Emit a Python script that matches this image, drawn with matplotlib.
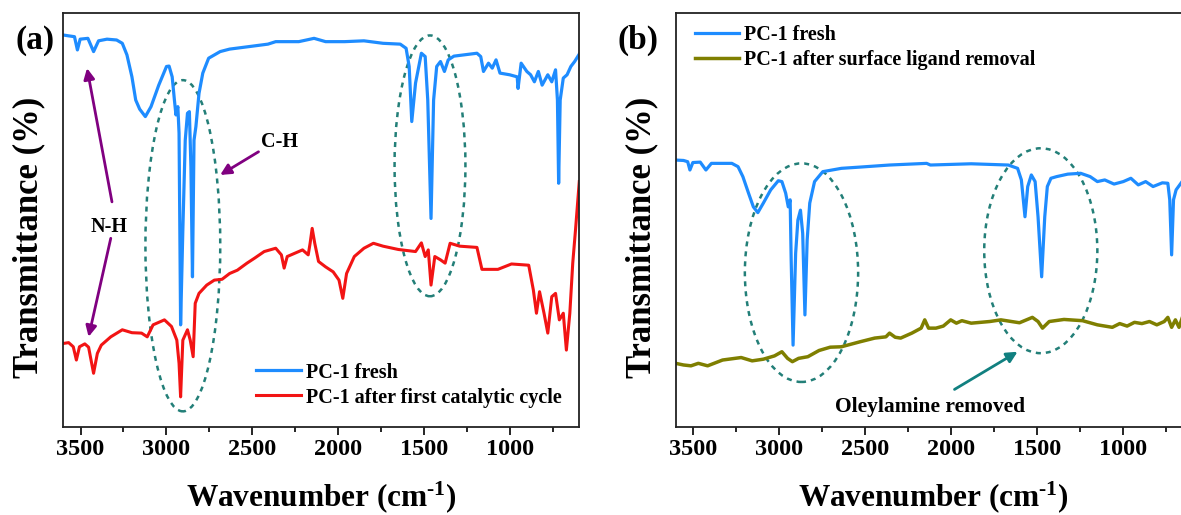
import matplotlib
matplotlib.use("Agg")
import matplotlib.pyplot as plt
from matplotlib.patches import Ellipse
from matplotlib.ticker import MultipleLocator

plt.rcParams["font.family"] = "Liberation Serif"
plt.rcParams["font.weight"] = "bold"
plt.rcParams["mathtext.fontset"] = "custom"
plt.rcParams["mathtext.rm"] = "Liberation Serif:bold"
plt.rcParams["mathtext.it"] = "Liberation Serif:bold"
plt.rcParams["mathtext.bf"] = "Liberation Serif:bold"

# ---- panel (a) data: wavenumber (cm-1) and transmittance (arb. units) ----
wn_fresh_a = [3600, 3569, 3535, 3518, 3502, 3457, 3424, 3395, 3346, 3290, 3257, 3230, 3201, 3179,
              3156, 3123, 3090, 3045, 3000, 2985, 2967, 2954, 2945, 2934, 2927, 2918, 2905, 2891,
              2878, 2867, 2858, 2849, 2840, 2829, 2811, 2789, 2755, 2688, 2633, 2521, 2410, 2365,
              2231, 2142, 2075, 1964, 1852, 1741, 1641, 1607, 1589, 1574, 1552, 1518, 1496, 1481,
              1462, 1447, 1429, 1407, 1384, 1362, 1329, 1195, 1173, 1157, 1128, 1106, 1084, 1061,
              1005, 961, 956, 938, 905, 883, 861, 838, 816, 783, 760, 738, 727, 720, 711, 693,
              671, 649, 627, 600]
tr_fresh_a = [94.6, 94.4, 94.2, 91.0, 93.6, 93.8, 90.6, 93.2, 93.6, 93.4, 92.6, 89.8, 84.5, 78.9,
              76.7, 74.9, 77.3, 82.5, 87.0, 87.1, 84.5, 78.9, 75.3, 77.3, 70.9, 24.6, 47.5, 69.2,
              75.7, 76.1, 62.8, 36.2, 69.2, 72.5, 80.5, 85.4, 89.0, 90.6, 91.2, 91.8, 92.4, 93.0,
              93.0, 93.8, 93.0, 93.0, 93.2, 92.6, 92.4, 91.4, 87.0, 73.7, 83.0, 90.2, 89.4, 78.9,
              50.3, 78.9, 87.0, 88.2, 85.8, 88.6, 89.5, 90.2, 89.4, 85.8, 87.8, 86.6, 88.6, 85.4,
              85.0, 84.5, 81.7, 87.8, 85.8, 85.0, 83.3, 85.8, 82.5, 85.0, 83.3, 86.2, 78.9, 58.8,
              78.9, 84.2, 85.0, 87.0, 88.2, 90.0]

wn_cycle_a = [3600, 3569, 3542, 3524, 3506, 3475, 3453, 3424, 3402, 3379, 3324, 3257, 3201, 3145,
              3112, 3078, 3012, 2971, 2940, 2927, 2918, 2905, 2878, 2862, 2845, 2833, 2811, 2766,
              2722, 2677, 2633, 2588, 2532, 2488, 2432, 2365, 2332, 2316, 2298, 2209, 2176, 2165,
              2153, 2138, 2116, 2075, 2031, 1997, 1975, 1953, 1908, 1852, 1797, 1741, 1652, 1552,
              1518, 1496, 1478, 1462, 1440, 1407, 1380, 1351, 1295, 1195, 1166, 1073, 994, 894,
              867, 849, 831, 805, 783, 760, 738, 716, 693, 675, 655, 638, 622, 600]
tr_cycle_a = [20.1, 20.3, 19.3, 16.1, 19.3, 20.0, 19.2, 12.9, 17.7, 19.7, 21.7, 23.4, 22.7, 22.6,
              21.7, 24.6, 25.8, 24.2, 20.9, 15.3, 7.2, 20.9, 23.4, 20.9, 16.9, 29.8, 32.2, 34.2,
              35.4, 35.6, 37.0, 37.8, 39.5, 40.7, 42.3, 43.1, 41.5, 38.3, 41.1, 42.7, 41.5, 44.3,
              47.9, 44.3, 39.9, 38.6, 37.4, 35.4, 31.0, 37.0, 41.1, 43.1, 44.3, 43.6, 42.8, 42.3,
              44.4, 41.1, 42.7, 34.2, 41.1, 40.3, 39.5, 44.3, 43.6, 43.3, 38.0, 38.0, 39.3, 39.0,
              33.0, 27.4, 32.6, 27.4, 22.6, 31.4, 32.2, 25.8, 27.4, 18.5, 27.4, 39.5, 47.5, 59.2]

# ---- panel (b) data ----
wn_fresh_b = [3600, 3554, 3530, 3517, 3500, 3457, 3424, 3392, 3273, 3237, 3209, 3176, 3148, 3122,
              3090, 3047, 3003, 2982, 2960, 2945, 2934, 2928, 2917, 2902, 2889, 2874, 2861, 2848,
              2835, 2820, 2792, 2744, 2636, 2528, 2356, 2140, 2118, 1881, 1665, 1611, 1589, 1568,
              1552, 1531, 1509, 1492, 1471, 1453, 1438, 1417, 1384, 1319, 1244, 1189, 1147, 1104,
              1050, 996, 952, 909, 866, 823, 769, 737, 726, 715, 704, 689, 654, 640]
tr_fresh_b = [64.4, 64.3, 64.0, 62.0, 63.8, 63.9, 62.0, 63.6, 63.6, 62.8, 60.4, 56.4, 53.1, 51.7,
              54.0, 57.2, 59.4, 59.2, 56.4, 53.1, 54.8, 40.3, 19.7, 41.9, 49.9, 52.3, 46.7, 27.0,
              45.1, 54.0, 59.2, 61.6, 62.4, 62.7, 63.2, 63.6, 63.2, 63.5, 63.2, 62.4, 59.6, 50.7,
              58.0, 60.8, 59.2, 50.7, 36.2, 50.7, 58.0, 60.0, 60.4, 61.0, 61.2, 60.4, 59.2, 59.6,
              58.6, 59.2, 60.0, 58.4, 59.2, 58.0, 58.9, 58.8, 54.8, 41.5, 54.8, 57.2, 59.2, 58.8]

wn_removed_b = [3600, 3554, 3511, 3468, 3414, 3327, 3219, 3155, 3090, 3025, 2982, 2949, 2921, 2885,
                2831, 2766, 2701, 2636, 2528, 2442, 2377, 2356, 2323, 2291, 2226, 2172, 2151, 2129,
                2086, 2043, 2000, 1967, 1935, 1881, 1773, 1708, 1600, 1525, 1492, 1466, 1427, 1341,
                1233, 1147, 1060, 1017, 974, 931, 888, 844, 801, 758, 737, 715, 693, 672, 654, 640]
tr_removed_b = [15.3, 14.9, 14.7, 15.3, 14.7, 16.1, 16.7, 15.9, 16.3, 17.1, 18.1, 16.5, 15.7, 16.5,
                16.9, 18.4, 19.2, 19.3, 20.5, 21.4, 21.7, 22.6, 21.6, 21.4, 22.6, 23.8, 25.8, 23.8,
                23.8, 24.3, 25.8, 25.0, 25.6, 25.0, 25.4, 25.8, 25.1, 26.4, 25.4, 23.8, 25.4, 25.9,
                25.6, 24.6, 24.0, 24.9, 24.3, 25.2, 24.9, 25.4, 24.6, 25.4, 26.4, 24.0, 25.8, 24.0,
                26.2, 27.0]

blue = "#1E8CFF"
red = "#F21414"
olive = "#7F7F00"
ring = "#237F78"
purple = "#800080"
teal = "#118080"

fig = plt.figure(figsize=(11.81, 5.15), dpi=100)
ax1 = fig.add_axes([0.0536, 0.1715, 0.4369, 0.8039])
ax2 = fig.add_axes([0.5721, 0.1715, 0.4367, 0.8039])

for ax in (ax1, ax2):
    ax.set_xlim(3600, 600)
    ax.set_ylim(0, 100)
    ax.xaxis.set_major_locator(MultipleLocator(500))
    ax.xaxis.set_minor_locator(MultipleLocator(250))
    ax.tick_params(axis="x", which="major", direction="out", length=6, width=1.2, labelsize=17.5, pad=3)
    ax.tick_params(axis="x", which="minor", direction="out", length=3.5, width=1.2)
    ax.set_yticks([])
    for s in ax.spines.values():
        s.set_linewidth(1.3)
        s.set_color("#222222")
    ax.set_xlabel("Wavenumber (cm$^{\u2010 1}$)", fontsize=22.5, fontweight="bold", va="top")
    ax.xaxis.set_label_coords(0.5, -0.128)
    ax.set_ylabel("Transmittance (%)", fontsize=25, fontweight="bold")
    ax.yaxis.set_label_coords(-0.034, 0.458)

# panel (a)
ax1.plot(wn_fresh_a, tr_fresh_a, color=blue, lw=2.3, label="PC-1 fresh")
ax1.plot(wn_cycle_a, tr_cycle_a, color=red, lw=2.2, label="PC-1 after first catalytic cycle")
ax1.add_patch(Ellipse((2905, 43.7), 435, 80, fill=False, ls=(0, (2, 2)), lw=1.8, color=ring))
ax1.add_patch(Ellipse((1468, 63.0), 412, 63, fill=False, ls=(0, (2, 2)), lw=1.8, color=ring))
arrow = dict(arrowstyle="-|>", color=purple, lw=2, mutation_scale=16, shrinkA=0, shrinkB=0)
ax1.annotate("", xy=(3462, 86.6), xytext=(3317, 54.3), arrowprops=arrow)
ax1.annotate("", xy=(3453, 21.7), xytext=(3324, 45.5), arrowprops=arrow)
ax1.text(3335, 48.3, "N-H", fontsize=14.5, fontweight="bold", ha="center", va="center")
ax1.annotate("", xy=(2688, 60.8), xytext=(2465, 66.4), arrowprops=arrow)
ax1.text(2343, 68.8, "C-H", fontsize=14.5, fontweight="bold", ha="center", va="center")
ax1.legend(loc="upper left", bbox_to_anchor=(0.374, 0.155), frameon=False, borderpad=0,
           borderaxespad=0, handlelength=2.2, handletextpad=0.25, labelspacing=0.25,
           prop={"weight": "bold", "size": 14.5})

# panel (b)
ax2.plot(wn_fresh_b, tr_fresh_b, color=blue, lw=2.3, label="PC-1 fresh")
ax2.plot(wn_removed_b, tr_removed_b, color=olive, lw=2.5, label="PC-1 after surface ligand removal")
ax2.add_patch(Ellipse((2868, 37.2), 659, 52.8, fill=False, ls=(0, (2, 2)), lw=1.8, color=ring))
ax2.add_patch(Ellipse((1476, 42.5), 658, 49.5, fill=False, ls=(0, (2, 2)), lw=1.8, color=ring))
ax2.annotate("", xy=(1611, 18.1), xytext=(1978, 9.0),
             arrowprops=dict(arrowstyle="-|>", color=teal, lw=2, mutation_scale=16, shrinkA=0, shrinkB=0))
ax2.text(2118, 4.8, "Oleylamine removed", fontsize=15.5, fontweight="bold", ha="center", va="center")
ax2.legend(loc="upper left", bbox_to_anchor=(0.037, 0.97), frameon=False, borderpad=0,
           borderaxespad=0, handlelength=2.2, handletextpad=0.25, labelspacing=0.25,
           prop={"weight": "bold", "size": 14.5})

fig.text(35 / 1181, 1 - 40 / 515, "(a)", fontsize=24, fontweight="bold", ha="center", va="center")
fig.text(638 / 1181, 1 - 40 / 515, "(b)", fontsize=24, fontweight="bold", ha="center", va="center")

fig.savefig("out.png", dpi=100)
